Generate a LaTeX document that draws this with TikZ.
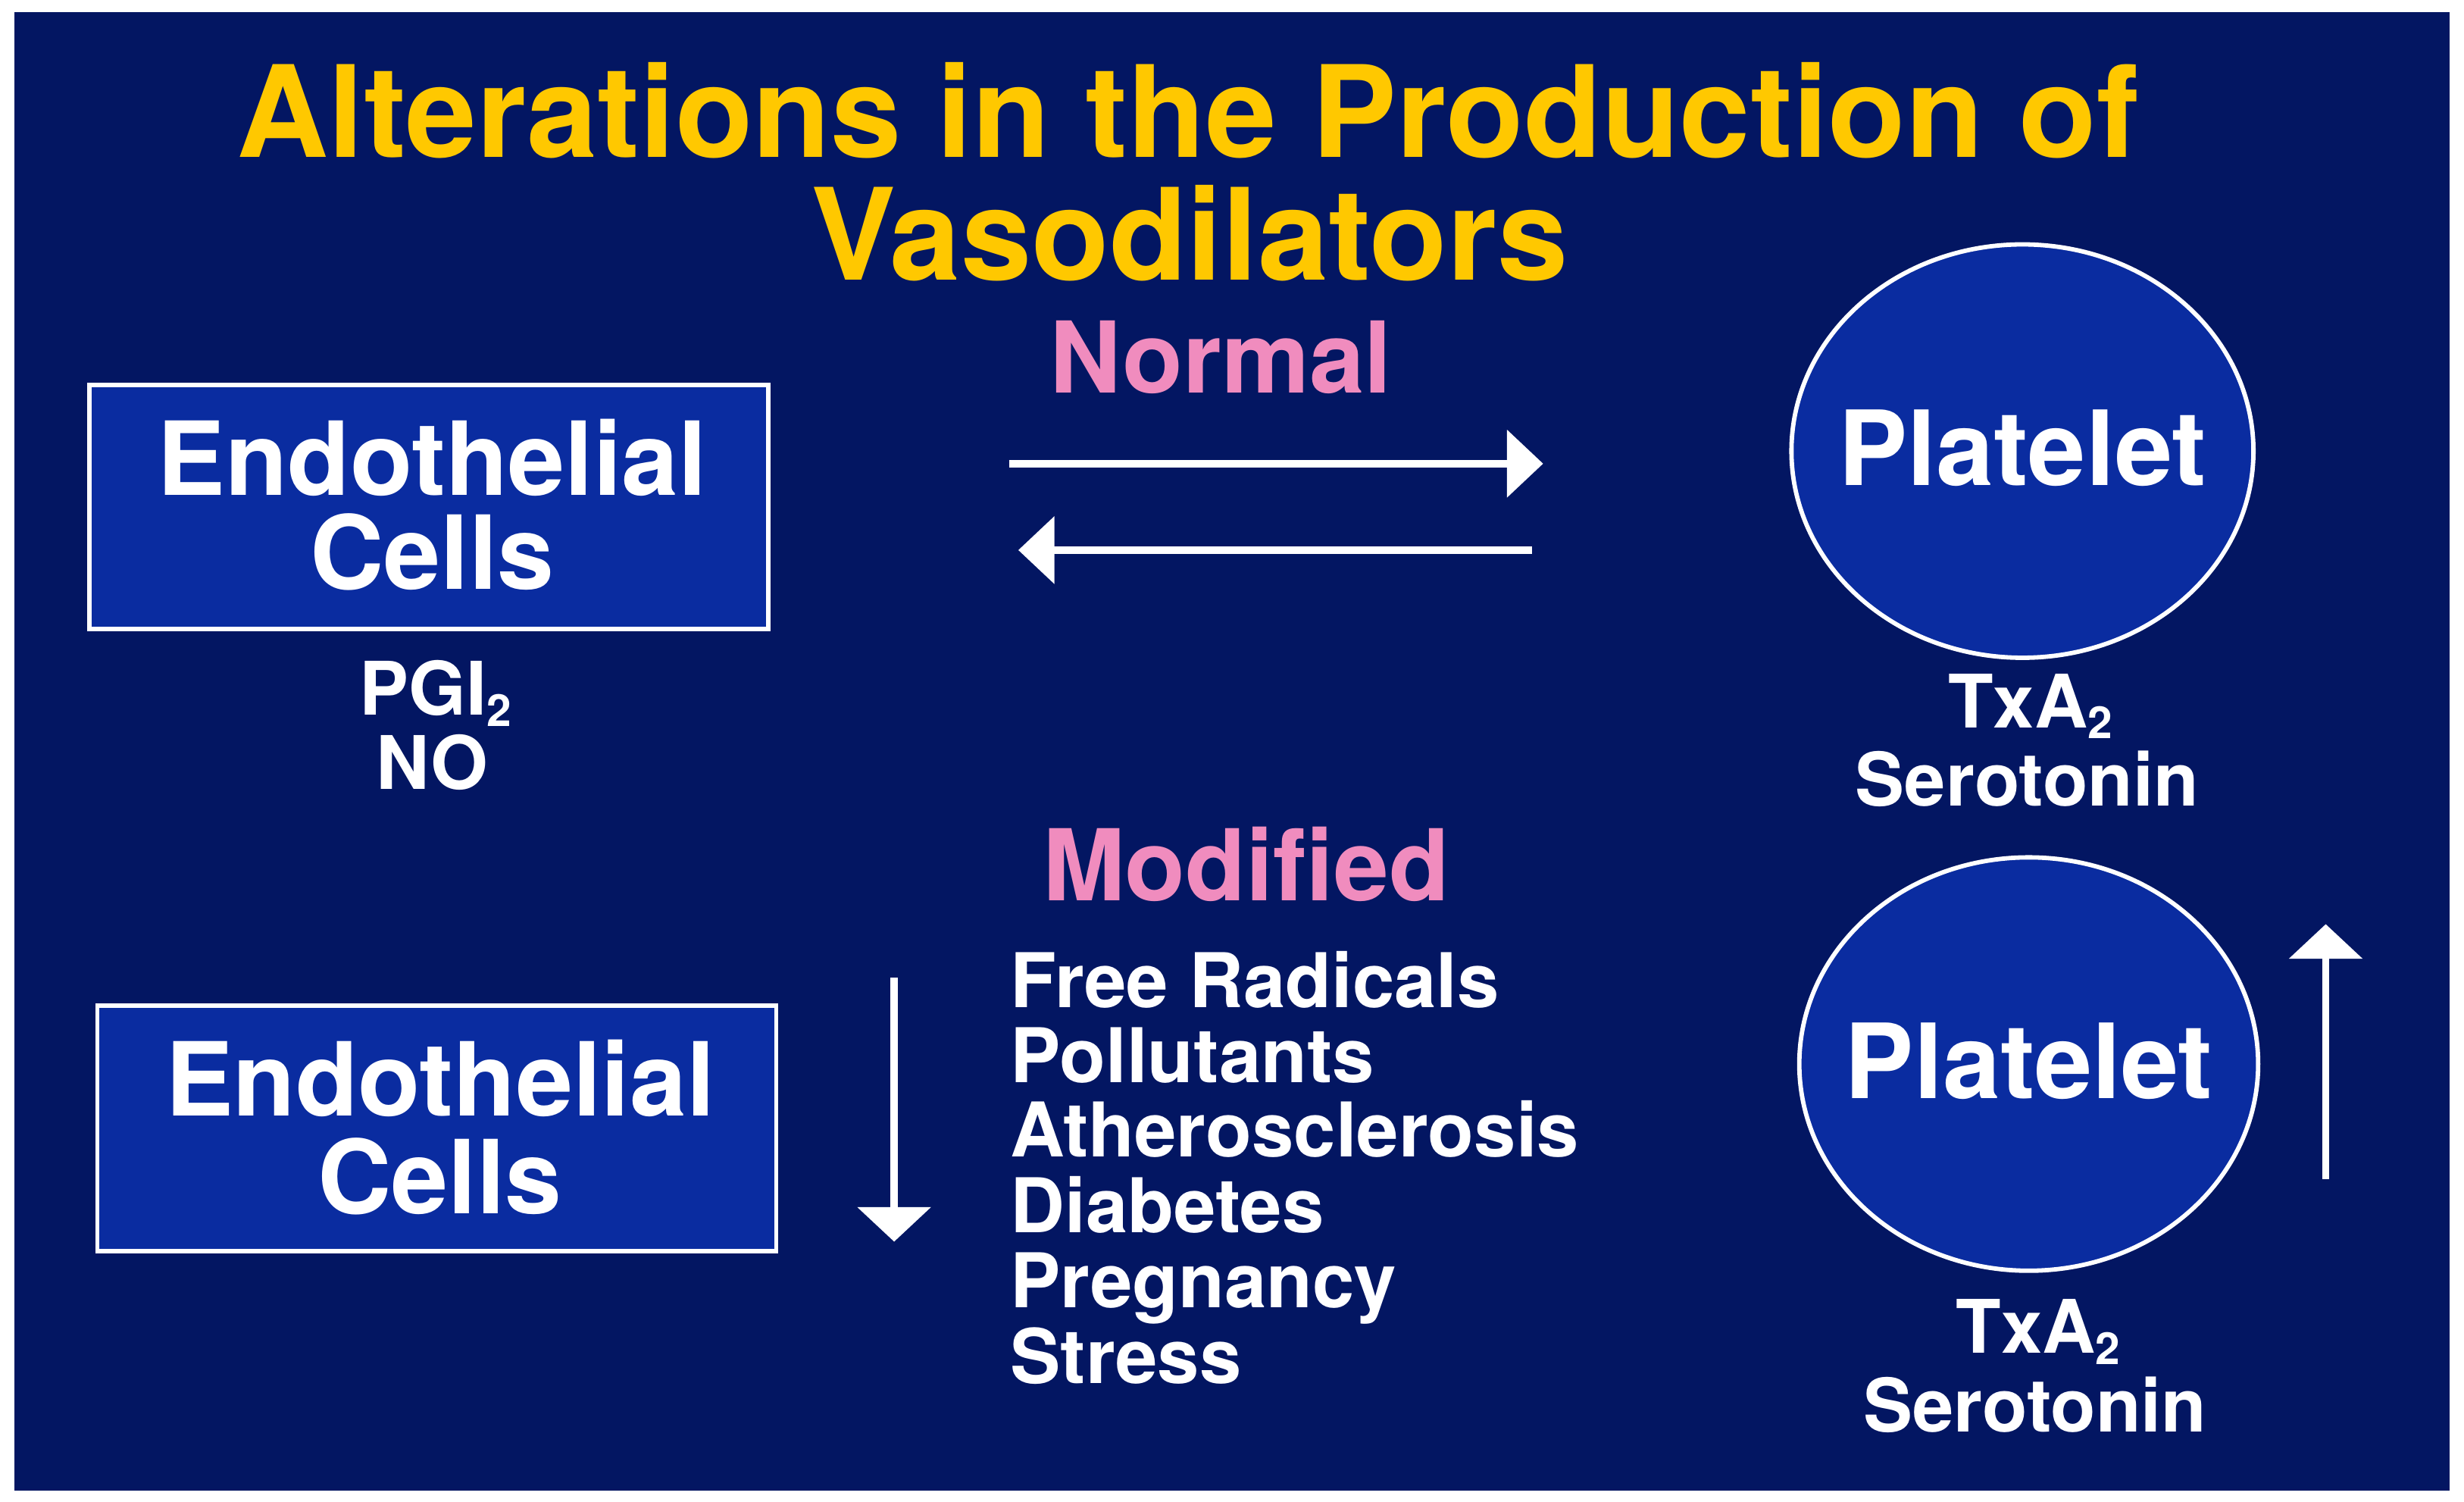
\documentclass[tikz,border=0pt]{standalone}
\usepackage{fontspec}
\setmainfont{TeX Gyre Heros}
\usetikzlibrary{arrows.meta,shapes.geometric}
\definecolor{bgblue}{RGB}{3,22,98}
\definecolor{boxblue}{RGB}{10,44,160}
\definecolor{titleyellow}{RGB}{255,200,0}
\definecolor{labelpink}{RGB}{240,140,190}
\newcommand\subtwo{\raisebox{-0.15em}{\scalebox{0.6}{2}}}
\begin{document}
\begin{tikzpicture}[x=1pt,y=-1pt,
  every node/.style={inner sep=0pt, outer sep=0pt},
  titletext/.style={text=titleyellow, font=\fontsize{81}{81}\selectfont\bfseries, anchor=base},
  headtext/.style={text=labelpink, font=\fontsize{63}{63}\selectfont\bfseries, anchor=base},
  boxtext/.style={text=white, font=\fontsize{65}{65}\selectfont\bfseries, anchor=base},
  smalltext/.style={text=white, font=\fontsize{47}{47}\selectfont\bfseries, anchor=base},
  listtext/.style={text=white, font=\fontsize{48}{48}\selectfont\bfseries, anchor=base west},
  cellbox/.style={draw=white, line width=2.8pt, fill=boxblue, rectangle},
  plate/.style={draw=white, line width=2.8pt, fill=boxblue, ellipse},
  arr/.style={draw=white, line width=5pt, -{Triangle[length=23pt,width=42pt]}},
  vert/.style={draw=white, line width=4.5pt, -{Triangle[length=22pt,width=46pt]}}
]
\useasboundingbox (0,0) rectangle (1568,955.6);
\fill[white] (0,0) rectangle (1568,955.6);
\fill[bgblue] (9.2,7.7) rectangle (1558.8,948.4);

% title
\node[titletext] (t1) at (756,100) {Alterations in the Production of};
\node[titletext] (t2) at (757,178) {Vasodilators};

% normal section
\node[headtext] (normal) at (777,250) {Normal};
\node[cellbox, minimum width=432pt, minimum height=155pt] (ec1) at (273,322.5) {};
\node[boxtext] (ec1a) at (275,315) {Endothelial};
\node[boxtext] (ec1b) at (275,375) {Cells};
\node[smalltext] (pgi) at (277,455) {PGI\subtwo};
\node[smalltext] (no) at (275,502) {NO};

\node[plate, minimum width=294pt, minimum height=263pt] (p1) at (1287,287) {};
\node[boxtext, font=\fontsize{66}{66}\selectfont\bfseries] (p1t) at (1287,309) {Platelet};
\node[smalltext] (tx1) at (1292,463) {TxA\subtwo};
\node[smalltext] (se1) at (1290,513) {Serotonin};

\coordinate (r1s) at (642,295);
\coordinate (r1e) at (982,295);
\coordinate (l1s) at (975,350);
\coordinate (l1e) at (648,350);
\draw[arr] (r1s) -- (r1e);
\draw[arr] (l1s) -- (l1e);

% modified section
\node[headtext] (modified) at (793,573) {Modified};
\node[cellbox, minimum width=432pt, minimum height=156pt] (ec2) at (278,718) {};
\node[boxtext] (ec2a) at (280,710) {Endothelial};
\node[boxtext] (ec2b) at (280,772) {Cells};

\coordinate (ds) at (569,622);
\coordinate (de) at (569,790);
\draw[vert] (ds) -- (de);

\node[listtext] (f1) at (643,641) {Free Radicals};
\node[listtext] (f2) at (643,689) {Pollutants};
\node[listtext] (f3) at (643,736) {Atherosclerosis};
\node[listtext] (f4) at (643,784) {Diabetes};
\node[listtext] (f5) at (643,832) {Pregnancy};
\node[listtext] (f6) at (643,880) {Stress};

\node[plate, minimum width=292pt, minimum height=263pt] (p2) at (1291,677) {};
\node[boxtext, font=\fontsize{66}{66}\selectfont\bfseries] (p2t) at (1291,699) {Platelet};
\node[smalltext] (tx2) at (1297,861) {TxA\subtwo};
\node[smalltext] (se2) at (1295,911) {Serotonin};

\coordinate (us) at (1480,750);
\coordinate (ue) at (1480,588);
\draw[vert] (us) -- (ue);
\end{tikzpicture}
\end{document}
